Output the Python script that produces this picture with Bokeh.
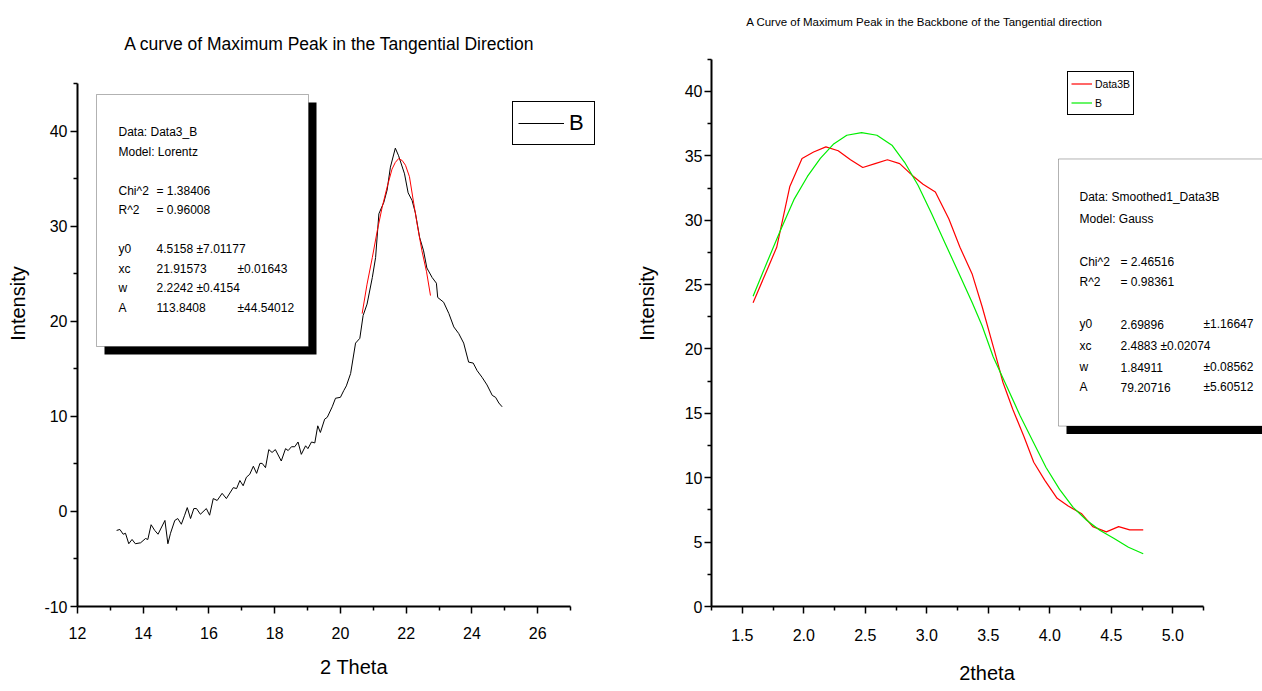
from bokeh.plotting import figure
from bokeh.models import (Range1d, FixedTicker, Label, BoxAnnotation, Legend,
                          LegendItem, NumeralTickFormatter)
from bokeh.layouts import row
from bokeh.embed import file_html
from bokeh.resources import INLINE

FONT = "Liberation Sans"

# ---------------- data: Lorentz fit of the tangential peak ----------------
theta_left = [13.19, 13.29, 13.39, 13.46, 13.56, 13.66, 13.76, 13.92, 14.07, 14.14,
              14.24, 14.35, 14.45, 14.66, 14.75, 14.83, 14.96, 15.05, 15.16, 15.26,
              15.34, 15.44, 15.54, 15.62, 15.74, 15.92, 16.02, 16.13, 16.25, 16.40,
              16.53, 16.74, 16.84, 16.94, 17.04, 17.14, 17.24, 17.35, 17.45, 17.55,
              17.62, 17.72, 17.82, 17.92, 18.02, 18.20, 18.33, 18.41, 18.51, 18.61,
              18.71, 18.81, 18.94, 19.01, 19.12, 19.22, 19.31, 19.39, 19.52, 19.60,
              19.75, 19.85, 20.00, 20.10, 20.18, 20.31, 20.46, 20.59, 20.69, 20.81,
              20.97, 21.07, 21.17, 21.32, 21.42, 21.52, 21.67, 21.77, 21.95, 22.06,
              22.18, 22.28, 22.41, 22.53, 22.63, 22.79, 22.92, 22.96, 23.14, 23.30,
              23.45, 23.60, 23.75, 23.90, 24.04, 24.16, 24.31, 24.46, 24.62, 24.72,
              24.82, 24.92]
intensity_b = [-2.0, -1.9, -2.4, -2.3, -3.4, -2.95, -3.4, -3.3, -2.85, -2.95,
               -1.4, -2.0, -2.4, -0.95, -3.4, -2.3, -0.95, -0.75, -1.35, -0.4,
               0.4, -0.75, 0.3, 0.3, -0.3, 0.3, -0.4, 1.35, 1.15, 1.9,
               1.35, 2.5, 2.4, 3.25, 2.7, 3.6, 3.9, 4.75, 4.0, 5.05,
               5.05, 4.6, 6.5, 6.2, 6.5, 5.3, 6.6, 6.4, 6.8, 6.8,
               7.3, 6.0, 6.9, 6.6, 7.3, 7.2, 9.0, 8.3, 9.7, 9.9,
               11.0, 11.9, 12.0, 12.7, 13.2, 14.5, 17.7, 18.2, 20.6, 21.8,
               24.6, 26.7, 31.3, 32.5, 33.8, 36.2, 38.2, 37.4, 35.5, 33.5,
               32.7, 31.4, 28.8, 27.4, 25.6, 24.6, 24.0, 22.5, 22.0, 20.8,
               19.4, 18.7, 17.7, 15.7, 15.6, 14.8, 14.1, 13.3, 12.2, 12.0,
               11.4, 11.0]

theta_fit_left = [20.66, 20.81, 20.97, 21.12, 21.27, 21.42, 21.57, 21.67, 21.77,
                  21.88, 21.98, 22.10, 22.23, 22.35, 22.48, 22.62, 22.74]
lorentz_fit = [20.8, 23.9, 26.7, 29.5, 32.0, 34.1, 36.0, 36.7, 37.1,
               36.9, 36.4, 35.2, 32.4, 29.9, 27.4, 25.2, 22.7]

# ---------------- data: Gauss fit of the backbone peak ----------------
theta_right = [1.588, 1.70, 1.78, 1.886, 1.986, 2.08, 2.18, 2.28, 2.38, 2.48,
               2.58, 2.68, 2.78, 2.88, 2.97, 3.07, 3.18, 3.27, 3.37, 3.45,
               3.555, 3.62, 3.70, 3.79, 3.87, 3.96, 4.06, 4.15, 4.26, 4.35,
               4.46, 4.56, 4.65, 4.76]
intensity_data3b = [23.6, 26.1, 27.9, 32.6, 34.8, 35.3, 35.7, 35.4, 34.7, 34.1,
                    34.4, 34.7, 34.4, 33.5, 32.8, 32.2, 30.1, 27.9, 25.8, 23.3,
                    19.7, 17.4, 15.3, 13.2, 11.2, 9.8, 8.4, 7.8, 7.2, 6.2,
                    5.8, 6.2, 5.95, 5.95]

theta_fit_right = [1.588, 1.70, 1.81, 1.92, 2.03, 2.135, 2.24, 2.35, 2.47, 2.595,
                   2.72, 2.82, 2.93, 3.04, 3.15, 3.26, 3.37, 3.45, 3.54, 3.65,
                   3.76, 3.87, 3.97, 4.08, 4.19, 4.30, 4.41, 4.52, 4.64, 4.76]
gauss_fit = [24.1, 26.7, 29.2, 31.6, 33.4, 34.8, 35.9, 36.6, 36.8, 36.6,
             35.8, 34.5, 32.7, 30.5, 28.2, 25.9, 23.6, 21.8, 19.4, 17.1,
             14.8, 12.7, 10.8, 9.1, 7.7, 6.7, 5.9, 5.3, 4.6, 4.1]

# tick values
left_xticks = [12, 14, 16, 18, 20, 22, 24, 26]
left_xminor = [13, 15, 17, 19, 21, 23, 25, 27]
left_yticks = [-10, 0, 10, 20, 30, 40]
left_yminor = [-5, 5, 15, 25, 35, 45]
right_xticks = [1.5, 2.0, 2.5, 3.0, 3.5, 4.0, 4.5, 5.0]
right_xminor = [1.25, 1.75, 2.25, 2.75, 3.25, 3.75, 4.25, 4.75, 5.25]
right_yticks = [0, 5, 10, 15, 20, 25, 30, 35, 40]
right_yminor = [2.5, 7.5, 12.5, 17.5, 22.5, 27.5, 32.5, 37.5, 42.5]

# page geometry: where each axis pair sits (pixels) and the value span it covers.
# The plotting frame runs on to the top and right edge of each canvas so that
# titles, legends and fit-report boxes outside the axes are not clipped.
LEFT_W, RIGHT_W, H = 630, 632, 691
LA = dict(off=0, cw=LEFT_W, x0=77, x1=570, y0=606, y1=83, xb=(12, 27), yb=(-10, 45))
RA = dict(off=LEFT_W, cw=RIGHT_W, x0=711, x1=1203, y0=608, y1=59, xb=(1.25, 5.25), yb=(0, 42.5))


def scale(a):
    kx = (a["xb"][1] - a["xb"][0]) / (a["x1"] - a["x0"])
    ky = (a["yb"][1] - a["yb"][0]) / (a["y0"] - a["y1"])
    return kx, ky


def to_data(a, px, py):
    kx, ky = scale(a)
    return a["xb"][0] + (px - a["x0"]) * kx, a["yb"][0] + (a["y0"] - py) * ky


def make_fig(a):
    x_end, y_end = to_data(a, a["off"] + a["cw"], 0)
    p = figure(width=a["cw"], height=H, title=None,
               x_range=Range1d(a["xb"][0], x_end), y_range=Range1d(a["yb"][0], y_end),
               output_backend="svg", toolbar_location=None,
               min_border_left=a["x0"] - a["off"], min_border_right=0,
               min_border_top=0, min_border_bottom=H - a["y0"])
    p.xgrid.visible = False
    p.ygrid.visible = False
    p.outline_line_color = None
    p.background_fill_color = "white"
    p.border_fill_color = "white"
    p.xaxis[0].bounds = a["xb"]
    p.yaxis[0].bounds = a["yb"]
    for ax in (p.xaxis[0], p.yaxis[0]):
        ax.axis_line_width = 2
        ax.axis_line_color = "black"
        ax.major_tick_line_width = 1.5
        ax.minor_tick_line_width = 1.5
        ax.major_tick_line_color = "black"
        ax.minor_tick_line_color = "black"
        ax.major_tick_out = 7
        ax.major_tick_in = 0
        ax.minor_tick_out = 4
        ax.minor_tick_in = 0
        ax.major_label_text_font = FONT
        ax.major_label_text_font_size = "16px"
        ax.major_label_text_color = "black"
        ax.axis_label_text_font = FONT
        ax.axis_label_text_font_size = "20px"
        ax.axis_label_text_font_style = "normal"
        ax.axis_label_text_color = "black"
    return p


def add_text(p, a, px, py, text, size="12px", align="left"):
    x, y = to_data(a, px, py)
    p.add_layout(Label(x=x, y=y, text=text, text_font=FONT, text_font_size=size,
                       text_align=align, text_baseline="middle", text_color="black"))


def add_box(p, a, left, top, right, bottom, shadow):
    l, t = to_data(a, left + shadow, top + shadow)
    r, b = to_data(a, right + shadow, bottom + shadow)
    p.add_layout(BoxAnnotation(left=l, right=r, top=t, bottom=b, fill_color="black",
                               fill_alpha=1, line_color=None))
    l, t = to_data(a, left, top)
    r, b = to_data(a, right, bottom)
    p.add_layout(BoxAnnotation(left=l, right=r, top=t, bottom=b, fill_color="white",
                               fill_alpha=1, line_color="black", line_width=1))


# ---------------- left chart ----------------
left = make_fig(LA)
left.xaxis[0].ticker = FixedTicker(ticks=left_xticks, minor_ticks=left_xminor)
left.yaxis[0].ticker = FixedTicker(ticks=left_yticks, minor_ticks=left_yminor)
left.xaxis[0].formatter = NumeralTickFormatter(format="0")
left.yaxis[0].formatter = NumeralTickFormatter(format="0")
left.xaxis[0].axis_label = "2 Theta"
left.yaxis[0].axis_label = "Intensity"
left.xaxis[0].major_label_standoff = 13
left.xaxis[0].axis_label_standoff = 14
left.yaxis[0].major_label_standoff = 3
left.yaxis[0].axis_label_standoff = 12

black = left.line(theta_left, intensity_b, line_color="black", line_width=1)
left.line(theta_fit_left, lorentz_fit, line_color="red", line_width=1)

add_text(left, LA, 329, 43, "A curve of Maximum Peak in the Tangential Direction", "17.5px", "center")

add_box(left, LA, 96, 94, 308, 346, 8)
for px, py, t in [(118, 131, "Data: Data3_B"), (118, 151, "Model: Lorentz"),
                  (118, 190, "Chi^2"), (156, 190, "= 1.38406"),
                  (118, 209, "R^2"), (156, 209, "= 0.96008"),
                  (118, 248, "y0"), (156, 248, "4.5158 ±7.01177"),
                  (118, 268, "xc"), (156, 268, "21.91573"), (237, 268, "±0.01643"),
                  (118, 287, "w"), (156, 287, "2.2242 ±0.4154"),
                  (118, 307, "A"), (156, 307, "113.8408"), (237, 307, "±44.54012")]:
    add_text(left, LA, px, py, t)

leg_l = Legend(items=[LegendItem(label="B", renderers=[black])],
               location=(435, 461), margin=0, padding=5, spacing=0,
               glyph_width=46, glyph_height=32, label_height=32, label_standoff=5,
               label_text_font=FONT, label_text_font_size="22px", label_text_color="black",
               border_line_color="black", border_line_alpha=1, border_line_width=1,
               background_fill_color="white", background_fill_alpha=1)
left.add_layout(leg_l)

# ---------------- right chart ----------------
right = make_fig(RA)
right.xaxis[0].ticker = FixedTicker(ticks=right_xticks, minor_ticks=right_xminor)
right.yaxis[0].ticker = FixedTicker(ticks=right_yticks, minor_ticks=right_yminor)
right.xaxis[0].formatter = NumeralTickFormatter(format="0.0")
right.yaxis[0].formatter = NumeralTickFormatter(format="0")
right.xaxis[0].axis_label = "2theta"
right.yaxis[0].axis_label = "Intensity"
right.xaxis[0].major_label_standoff = 15
right.xaxis[0].axis_label_standoff = 18
right.yaxis[0].major_label_standoff = 2
right.yaxis[0].axis_label_standoff = 24

red = right.line(theta_right, intensity_data3b, line_color="red", line_width=1.2)
green = right.line(theta_fit_right, gauss_fit, line_color="#00ee00", line_width=1.2)

add_text(right, RA, 924, 22,
         "A Curve of Maximum Peak in the Backbone of the Tangential direction", "11.5px", "center")

add_box(right, RA, 1058, 159, 1290, 427, 8)
for px, py, t in [(1079, 197, "Data: Smoothed1_Data3B"), (1079, 219, "Model: Gauss"),
                  (1079, 262, "Chi^2"), (1120, 262, "= 2.46516"),
                  (1079, 282, "R^2"), (1120, 282, "= 0.98361"),
                  (1079, 325, "y0"), (1120, 325, "2.69896"), (1203, 325, "±1.16647"),
                  (1079, 347, "xc"), (1120, 347, "2.4883 ±0.02074"),
                  (1079, 368, "w"), (1120, 368, "1.84911"), (1203, 368, "±0.08562"),
                  (1079, 388, "A"), (1120, 388, "79.20716"), (1203, 388, "±5.60512")]:
    add_text(right, RA, px, py, t)

leg_r = Legend(items=[LegendItem(label="Data3B", renderers=[red]),
                      LegendItem(label="B", renderers=[green])],
               location=(356, 491), margin=0, padding=3, spacing=2,
               glyph_width=21, glyph_height=17, label_height=17, label_standoff=3,
               label_text_font=FONT, label_text_font_size="10.5px", label_text_color="black",
               border_line_color="black", border_line_alpha=1, border_line_width=1,
               background_fill_color="white", background_fill_alpha=1)
right.add_layout(leg_r)

layout = row(left, right, spacing=0)
open("out.html", "w").write(file_html(layout, INLINE))
